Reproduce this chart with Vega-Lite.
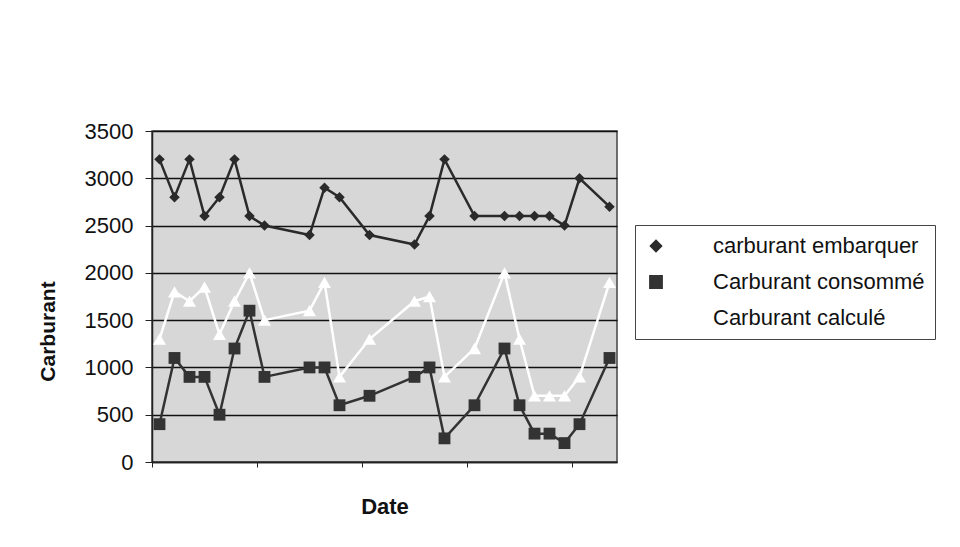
{
  "$schema": "https://vega.github.io/schema/vega-lite/v6.json",
  "width": 465,
  "height": 331,
  "autosize": "none",
  "padding": {"left": 152, "top": 131, "right": 343, "bottom": 85},
  "background": "white",
  "config": {
    "font": "Liberation Sans",
    "view": {"fill": "#d7d7d7", "stroke": "#444", "strokeWidth": 1.5}
  },
  "data": {
    "values": [
      {"Date": "2004-03-01", "Série": "carburant embarquer", "Carburant": 3200},
      {"Date": "2004-03-02", "Série": "carburant embarquer", "Carburant": 2800},
      {"Date": "2004-03-03", "Série": "carburant embarquer", "Carburant": 3200},
      {"Date": "2004-03-04", "Série": "carburant embarquer", "Carburant": 2600},
      {"Date": "2004-03-05", "Série": "carburant embarquer", "Carburant": 2800},
      {"Date": "2004-03-06", "Série": "carburant embarquer", "Carburant": 3200},
      {"Date": "2004-03-07", "Série": "carburant embarquer", "Carburant": 2600},
      {"Date": "2004-03-08", "Série": "carburant embarquer", "Carburant": 2500},
      {"Date": "2004-03-11", "Série": "carburant embarquer", "Carburant": 2400},
      {"Date": "2004-03-12", "Série": "carburant embarquer", "Carburant": 2900},
      {"Date": "2004-03-13", "Série": "carburant embarquer", "Carburant": 2800},
      {"Date": "2004-03-15", "Série": "carburant embarquer", "Carburant": 2400},
      {"Date": "2004-03-18", "Série": "carburant embarquer", "Carburant": 2300},
      {"Date": "2004-03-19", "Série": "carburant embarquer", "Carburant": 2600},
      {"Date": "2004-03-20", "Série": "carburant embarquer", "Carburant": 3200},
      {"Date": "2004-03-22", "Série": "carburant embarquer", "Carburant": 2600},
      {"Date": "2004-03-24", "Série": "carburant embarquer", "Carburant": 2600},
      {"Date": "2004-03-25", "Série": "carburant embarquer", "Carburant": 2600},
      {"Date": "2004-03-26", "Série": "carburant embarquer", "Carburant": 2600},
      {"Date": "2004-03-27", "Série": "carburant embarquer", "Carburant": 2600},
      {"Date": "2004-03-28", "Série": "carburant embarquer", "Carburant": 2500},
      {"Date": "2004-03-29", "Série": "carburant embarquer", "Carburant": 3000},
      {"Date": "2004-03-31", "Série": "carburant embarquer", "Carburant": 2700},
      {"Date": "2004-03-01", "Série": "Carburant consommé", "Carburant": 400},
      {"Date": "2004-03-02", "Série": "Carburant consommé", "Carburant": 1100},
      {"Date": "2004-03-03", "Série": "Carburant consommé", "Carburant": 900},
      {"Date": "2004-03-04", "Série": "Carburant consommé", "Carburant": 900},
      {"Date": "2004-03-05", "Série": "Carburant consommé", "Carburant": 500},
      {"Date": "2004-03-06", "Série": "Carburant consommé", "Carburant": 1200},
      {"Date": "2004-03-07", "Série": "Carburant consommé", "Carburant": 1600},
      {"Date": "2004-03-08", "Série": "Carburant consommé", "Carburant": 900},
      {"Date": "2004-03-11", "Série": "Carburant consommé", "Carburant": 1000},
      {"Date": "2004-03-12", "Série": "Carburant consommé", "Carburant": 1000},
      {"Date": "2004-03-13", "Série": "Carburant consommé", "Carburant": 600},
      {"Date": "2004-03-15", "Série": "Carburant consommé", "Carburant": 700},
      {"Date": "2004-03-18", "Série": "Carburant consommé", "Carburant": 900},
      {"Date": "2004-03-19", "Série": "Carburant consommé", "Carburant": 1000},
      {"Date": "2004-03-20", "Série": "Carburant consommé", "Carburant": 250},
      {"Date": "2004-03-22", "Série": "Carburant consommé", "Carburant": 600},
      {"Date": "2004-03-24", "Série": "Carburant consommé", "Carburant": 1200},
      {"Date": "2004-03-25", "Série": "Carburant consommé", "Carburant": 600},
      {"Date": "2004-03-26", "Série": "Carburant consommé", "Carburant": 300},
      {"Date": "2004-03-27", "Série": "Carburant consommé", "Carburant": 300},
      {"Date": "2004-03-28", "Série": "Carburant consommé", "Carburant": 200},
      {"Date": "2004-03-29", "Série": "Carburant consommé", "Carburant": 400},
      {"Date": "2004-03-31", "Série": "Carburant consommé", "Carburant": 1100},
      {"Date": "2004-03-01", "Série": "Carburant  calculé", "Carburant": 1300},
      {"Date": "2004-03-02", "Série": "Carburant  calculé", "Carburant": 1800},
      {"Date": "2004-03-03", "Série": "Carburant  calculé", "Carburant": 1700},
      {"Date": "2004-03-04", "Série": "Carburant  calculé", "Carburant": 1850},
      {"Date": "2004-03-05", "Série": "Carburant  calculé", "Carburant": 1350},
      {"Date": "2004-03-06", "Série": "Carburant  calculé", "Carburant": 1700},
      {"Date": "2004-03-07", "Série": "Carburant  calculé", "Carburant": 2000},
      {"Date": "2004-03-08", "Série": "Carburant  calculé", "Carburant": 1500},
      {"Date": "2004-03-11", "Série": "Carburant  calculé", "Carburant": 1600},
      {"Date": "2004-03-12", "Série": "Carburant  calculé", "Carburant": 1900},
      {"Date": "2004-03-13", "Série": "Carburant  calculé", "Carburant": 900},
      {"Date": "2004-03-15", "Série": "Carburant  calculé", "Carburant": 1300},
      {"Date": "2004-03-18", "Série": "Carburant  calculé", "Carburant": 1700},
      {"Date": "2004-03-19", "Série": "Carburant  calculé", "Carburant": 1750},
      {"Date": "2004-03-20", "Série": "Carburant  calculé", "Carburant": 900},
      {"Date": "2004-03-22", "Série": "Carburant  calculé", "Carburant": 1200},
      {"Date": "2004-03-24", "Série": "Carburant  calculé", "Carburant": 2000},
      {"Date": "2004-03-25", "Série": "Carburant  calculé", "Carburant": 1300},
      {"Date": "2004-03-26", "Série": "Carburant  calculé", "Carburant": 700},
      {"Date": "2004-03-27", "Série": "Carburant  calculé", "Carburant": 700},
      {"Date": "2004-03-28", "Série": "Carburant  calculé", "Carburant": 700},
      {"Date": "2004-03-29", "Série": "Carburant  calculé", "Carburant": 900},
      {"Date": "2004-03-31", "Série": "Carburant  calculé", "Carburant": 1900}
    ]
  },
  "encoding": {
    "x": {
      "field": "Date",
      "type": "temporal",
      "scale": {
        "type": "utc",
        "domain": [
          {"year": 2004, "month": 2, "date": 29, "hours": 12, "utc": true},
          {"year": 2004, "month": 3, "date": 31, "hours": 12, "utc": true}
        ]
      },
      "axis": {
        "title": "Date",
        "labels": false,
        "grid": false,
        "values": [
          {"year": 2004, "month": 2, "date": 29, "hours": 12, "utc": true},
          {"year": 2004, "month": 3, "date": 7, "hours": 12, "utc": true},
          {"year": 2004, "month": 3, "date": 14, "hours": 12, "utc": true},
          {"year": 2004, "month": 3, "date": 21, "hours": 12, "utc": true},
          {"year": 2004, "month": 3, "date": 28, "hours": 12, "utc": true}
        ],
        "domainColor": "#222",
        "domainWidth": 1.5,
        "tickColor": "#222",
        "tickSize": 5,
        "titleFontSize": 22,
        "titleFontWeight": "bold",
        "titleColor": "#111",
        "titlePadding": 29
      }
    },
    "y": {
      "field": "Carburant",
      "type": "quantitative",
      "scale": {"domain": [0, 3500], "nice": false},
      "axis": {
        "title": "Carburant",
        "format": "d",
        "values": [0, 500, 1000, 1500, 2000, 2500, 3000, 3500],
        "grid": true,
        "gridColor": "#111",
        "gridWidth": 1.5,
        "gridOpacity": 1,
        "domainColor": "#222",
        "domainWidth": 1.5,
        "tickColor": "#222",
        "tickSize": 7,
        "labelFontSize": 22,
        "labelColor": "#111",
        "labelPadding": 12,
        "titleFontSize": 21,
        "titleFontWeight": "bold",
        "titleColor": "#111",
        "titleX": -104,
        "titleY": 200,
        "titleAlign": "center",
        "titleBaseline": "middle",
        "titleAngle": -90
      }
    },
    "color": {
      "field": "Série",
      "type": "nominal",
      "scale": {
        "domain": ["carburant embarquer", "Carburant consommé", "Carburant  calculé"],
        "range": ["#2a2a2a", "#333333", "#ffffff"]
      },
      "legend": {
        "title": null,
        "orient": "none",
        "legendX": 483,
        "legendY": 94,
        "strokeColor": "#444",
        "fillColor": "white",
        "padding": 10,
        "labelFontSize": 22,
        "labelColor": "#111",
        "labelLimit": 400,
        "labelOffset": 46,
        "rowPadding": 14,
        "symbolSize": 110,
        "symbolStrokeWidth": 2
      }
    }
  },
  "layer": [
    {
      "mark": {"type": "line", "strokeWidth": 2.5},
      "encoding": {}
    },
    {
      "mark": {"type": "point", "filled": true, "opacity": 1},
      "encoding": {
        "shape": {
          "field": "Série",
          "type": "nominal",
          "scale": {
            "domain": ["carburant embarquer", "Carburant consommé", "Carburant  calculé"],
            "range": ["diamond", "square", "triangle-up"]
          },
          "legend": null
        },
        "size": {
          "field": "Série",
          "type": "nominal",
          "scale": {
            "domain": ["carburant embarquer", "Carburant consommé", "Carburant  calculé"],
            "range": [110, 170, 60]
          },
          "legend": null
        }
      }
    }
  ]
}
